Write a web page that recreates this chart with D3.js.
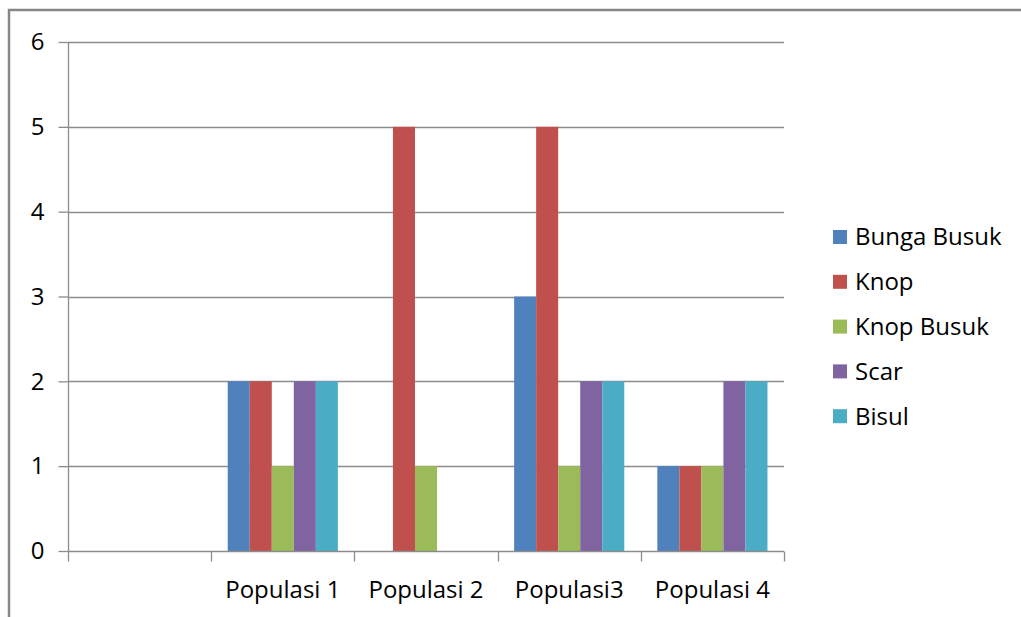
<!DOCTYPE html>
<html>
<head>
<meta charset="utf-8">
<script src="https://cdn.jsdelivr.net/npm/d3@7"></script>
<style>
  html, body { margin: 0; padding: 0; background: #fff; }
  svg { display: block; }
  text { font-family: "Open Sans", "Liberation Sans", sans-serif; fill: #000; }
</style>
</head>
<body>
<svg id="chart" width="1021" height="617"></svg>
<script>
const categories = ["", "Populasi 1", "Populasi 2", "Populasi3", "Populasi 4"];
const seriesNames = ["Bunga Busuk", "Knop", "Knop Busuk", "Scar", "Bisul"];
const bungaBusuk = [0, 2, 0, 3, 1];
const knop = [0, 2, 5, 5, 1];
const knopBusuk = [0, 1, 1, 1, 1];
const scar = [0, 2, 0, 2, 2];
const bisul = [0, 2, 0, 2, 2];
const yTicks = [0, 1, 2, 3, 4, 5, 6];
const colors = ["#4F81BD", "#C0504D", "#9BBB59", "#8064A2", "#4BACC6"];

const seriesValues = [bungaBusuk, knop, knopBusuk, scar, bisul];

const svg = d3.select("#chart");

// outer frame of the chart object
svg.append("rect")
  .attr("x", 9).attr("y", 10)
  .attr("width", 1040).attr("height", 640)
  .attr("fill", "none").attr("stroke", "#878787").attr("stroke-width", 2.5);

const plot = { left: 68, right: 784, top: 42, bottom: 551 };

const x = d3.scaleBand()
  .domain(categories.map((c, i) => i))
  .range([plot.left, plot.right])
  .paddingInner(0).paddingOuter(0);

// Excel-style gap width of 150%
const x1 = d3.scaleBand()
  .domain(seriesNames)
  .range([0, x.bandwidth()])
  .paddingOuter(0.75)
  .paddingInner(0);

const y = d3.scaleLinear().domain([0, 6]).range([plot.bottom, plot.top]);

// horizontal gridlines
svg.append("g")
  .selectAll("line")
  .data(yTicks.filter(t => t > 0))
  .join("line")
  .attr("x1", plot.left).attr("x2", plot.right)
  .attr("y1", d => Math.round(y(d)) + 0.5).attr("y2", d => Math.round(y(d)) + 0.5)
  .attr("stroke", "#8c8c8c").attr("stroke-width", 1.3);

// bars
const groups = svg.append("g")
  .selectAll("g")
  .data(categories.map((c, i) => i))
  .join("g")
  .attr("transform", i => `translate(${x(i)},0)`);

groups.selectAll("rect")
  .data(i => seriesNames.map((s, k) => ({ s, k, v: seriesValues[k][i] })))
  .join("rect")
  .attr("x", d => x1(d.s))
  .attr("width", x1.bandwidth())
  .attr("y", d => y(d.v))
  .attr("height", d => y(0) - y(d.v))
  .attr("fill", d => colors[d.k]);

// y axis
const yAxis = svg.append("g")
  .attr("transform", `translate(${plot.left + 0.5},0)`)
  .call(d3.axisLeft(y).tickValues(yTicks).tickSize(10).tickPadding(14).tickFormat(d3.format("d")));
yAxis.selectAll("line, path").attr("stroke", "#8c8c8c").attr("stroke-width", 1.3);
yAxis.select("path").attr("d", `M0,${plot.top}V${plot.bottom}`);
yAxis.selectAll("text").attr("font-size", 24).attr("font-family", "\"Open Sans\", sans-serif").attr("fill", "#000");

// x axis with ticks at category boundaries
const xAxisG = svg.append("g").attr("transform", `translate(0,${plot.bottom + 0.5})`);
xAxisG.append("line")
  .attr("x1", plot.left).attr("x2", plot.right)
  .attr("stroke", "#8c8c8c").attr("stroke-width", 1.3);
const boundaries = categories.map((c, i) => x(i)).concat([plot.right]);
xAxisG.selectAll("line.tick")
  .data(boundaries)
  .join("line")
  .attr("class", "tick")
  .attr("x1", d => Math.round(d) + 0.5).attr("x2", d => Math.round(d) + 0.5)
  .attr("y1", 0).attr("y2", 10)
  .attr("stroke", "#8c8c8c").attr("stroke-width", 1.3);
xAxisG.selectAll("text")
  .data(categories.map((c, i) => i))
  .join("text")
  .attr("x", i => x(i) + x.bandwidth() / 2)
  .attr("y", 46)
  .attr("text-anchor", "middle")
  .attr("font-size", 24)
  .text(i => categories[i]);

// legend
const legend = svg.append("g").attr("transform", "translate(833,237)");
const items = legend.selectAll("g")
  .data(seriesNames)
  .join("g")
  .attr("transform", (d, k) => `translate(0,${k * 44.8})`);
items.append("rect")
  .attr("x", 0).attr("y", -7).attr("width", 14).attr("height", 14)
  .attr("fill", (d, k) => colors[k]);
items.append("text")
  .attr("x", 22).attr("y", 0).attr("dy", "0.35em")
  .attr("font-size", 24)
  .text(d => d);
</script>
</body>
</html>
